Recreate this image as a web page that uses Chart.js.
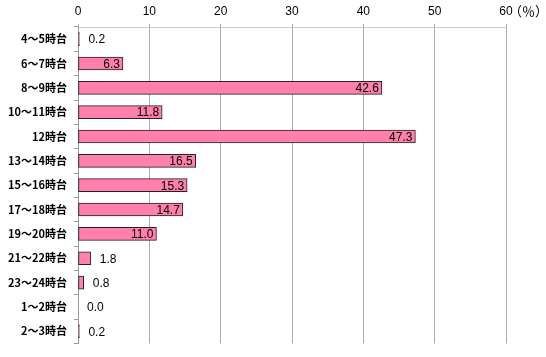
<!DOCTYPE html>
<html>
<head>
<meta charset="utf-8">
<script src="https://cdn.jsdelivr.net/npm/chart.js@4"></script>
<style>
html,body{margin:0;padding:0;background:#fff;}
#wrap{width:546px;height:357px;position:relative;}
</style>
</head>
<body>
<div id="wrap"><canvas id="c" width="546" height="357"></canvas></div>
<script>
const categories = ['4～5時台','6～7時台','8～9時台','10～11時台','12時台','13～14時台','15～16時台','17～18時台','19～20時台','21～22時台','23～24時台','1～2時台','2～3時台'];
const values = [0.2, 6.3, 42.6, 11.8, 47.3, 16.5, 15.3, 14.7, 11.0, 1.8, 0.8, 0.0, 0.2];
const xTicks = [0, 10, 20, 30, 40, 50, 60];
const unitLabel = '（％）';

const labelPlugin = {
  id: 'valueLabels',
  afterDatasetsDraw(chart) {
    const ctx = chart.ctx;
    const meta = chart.getDatasetMeta(0);
    ctx.save();
    ctx.font = '12px "Liberation Sans", Arial, sans-serif';
    ctx.fillStyle = '#000';
    ctx.textBaseline = 'middle';
    meta.data.forEach((bar, i) => {
      const v = values[i];
      const txt = v.toFixed(1);
      if (v >= 3) {
        ctx.textAlign = 'right';
        ctx.fillText(txt, bar.x - 3, bar.y + 1);
      } else {
        ctx.textAlign = 'left';
        ctx.fillText(txt, bar.x + 9, bar.y + 1);
      }
    });
    // unit label after the last top tick
    const xs = chart.scales.x;
    const px = xs.getPixelForValue(xTicks[xTicks.length - 1]);
    ctx.font = '13px "Noto Sans CJK JP", sans-serif';
    ctx.textAlign = 'left';
    ctx.fillText(unitLabel, px + 3, 11);
    ctx.restore();
  }
};

new Chart(document.getElementById('c'), {
  type: 'bar',
  data: {
    labels: categories,
    datasets: [{
      data: values,
      backgroundColor: '#FF80A8',
      borderColor: '#222',
      borderWidth: 1,
      borderSkipped: false,
      barThickness: 13
    }]
  },
  options: {
    indexAxis: 'y',
    responsive: false,
    animation: false,
    devicePixelRatio: 1,
    layout: { padding: { left: 0, right: 40, top: 0, bottom: 9 } },
    plugins: { legend: { display: false }, tooltip: { enabled: false } },
    scales: {
      x: {
        position: 'top',
        min: 0, max: 60,
        afterFit(s) { s.height = 27; },
        afterBuildTicks(s) { s.ticks = xTicks.map(v => ({ value: v })); },
        ticks: {
          color: '#000',
          padding: 5,
          font: { family: '"Liberation Sans", Arial, sans-serif', size: 12 }
        },
        grid: { color: '#aaaaaa', lineWidth: 1, tickLength: 3 },
        border: { display: true, color: '#cccccc' }
      },
      y: {
        afterFit(s) { s.width = 78; },
        ticks: {
          color: '#000',
          padding: 7,
          font: { family: '"Noto Sans CJK JP", sans-serif', size: 11, weight: 'bold' }
        },
        grid: { drawOnChartArea: false, drawTicks: true, tickLength: 4, color: '#999999', offset: true },
        border: { display: true, color: '#999999' }
      }
    }
  },
  plugins: [labelPlugin]
});
</script>
</body>
</html>
